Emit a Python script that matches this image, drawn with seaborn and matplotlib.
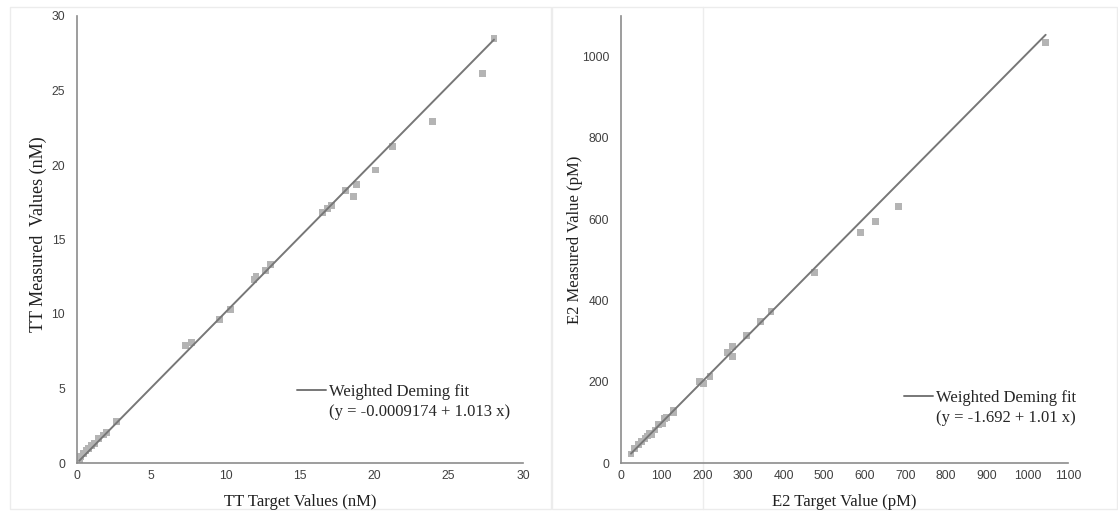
import numpy as np
import matplotlib
matplotlib.use("Agg")
import matplotlib.pyplot as plt
from matplotlib.lines import Line2D
from matplotlib.patches import Rectangle
import seaborn as sns

# TT panel (nM)
tt_target = [0.15, 0.25, 0.42, 0.6, 0.76, 0.99, 1.2, 1.43, 1.77, 2.0, 2.67,
             7.3, 7.7, 9.6, 10.3, 11.9, 12.04, 12.7, 13.0,
             16.5, 16.86, 17.1, 18.07, 18.6, 18.8, 20.1, 21.2, 23.9, 27.3, 28.05]
tt_measured = [0.25, 0.42, 0.65, 0.83, 0.98, 1.16, 1.32, 1.66, 1.88, 2.06, 2.8,
               7.9, 8.1, 9.64, 10.3, 12.3, 12.5, 12.9, 13.3,
               16.8, 17.1, 17.3, 18.27, 17.9, 18.7, 19.66, 21.25, 22.9, 26.15, 28.5]
tt_fit = (-0.0009174, 1.013)

# E2 panel (pM)
e2_target = [24.6, 34, 42.6, 51, 59, 65, 71, 75.5, 83.6, 92, 101.6, 108, 112.4,
             128.8, 130, 194, 202.6, 219, 262.5, 275, 275, 309, 344, 369, 475.8,
             590, 627, 682, 1045]
e2_measured = [22, 36, 46, 52.6, 61, 66.6, 73, 69, 81.4, 93.8, 96, 110, 112.7,
               125, 129, 200.6, 195, 213, 272, 287, 262, 314, 348, 372, 468,
               568, 594.6, 632, 1034.5]
e2_fit = (-1.692, 1.01)

sns.set_style("white")
plt.rcParams['font.family'] = ['Liberation Serif', 'DejaVu Serif']

line_col = '#777777'
pt_col = '#b4b4b4'
tick_col = '#404040'
spine_col = '#8c8c8c'

fig = plt.figure(figsize=(11.18, 5.13), dpi=100)

# faint panel frames from the original figure
for x0, x1 in [(10, 551), (552, 1117)]:
    fig.patches.append(Rectangle((x0 / 1118, 1 - 509 / 513), (x1 - x0) / 1118, 502 / 513,
                                 transform=fig.transFigure, fill=False,
                                 edgecolor='#ececec', lw=1, zorder=-1))
fig.add_artist(Line2D([703 / 1118, 703 / 1118], [1 - 509 / 513, 1 - 7 / 513],
                      transform=fig.transFigure, color='#ededed', lw=1, zorder=-1))

ax1 = fig.add_axes([77 / 1118, 1 - 463 / 513, 446 / 1118, 447 / 513])
ax2 = fig.add_axes([621 / 1118, 1 - 463 / 513, 447 / 1118, 447 / 513])


def draw_panel(ax, xs, ys, fit, xlabel, ylabel, ysize=12):
    ax.set_facecolor('none')
    sns.scatterplot(x=xs, y=ys, ax=ax, marker='s', s=24, color=pt_col,
                    edgecolor='none', zorder=2)
    fx = np.array([min(xs), max(xs)])
    sns.lineplot(x=fx, y=fit[0] + fit[1] * fx, ax=ax, color=line_col, lw=1.4, zorder=3)
    ax.set_xlabel(xlabel, fontsize=12, color='#202020')
    ax.set_ylabel(ylabel, fontsize=ysize, color='#202020')
    for s in ['top', 'right']:
        ax.spines[s].set_visible(False)
    for s in ['left', 'bottom']:
        ax.spines[s].set_color(spine_col)
        ax.spines[s].set_linewidth(1.2)
    ax.tick_params(which='both', direction='out', length=3, width=1, color=spine_col,
                   labelcolor=tick_col)
    ax.tick_params(axis='y', pad=5.5)
    ax.tick_params(axis='x', pad=2)
    return [Line2D([], [], color=line_col, lw=1.4), Line2D([], [], color='none')]


h1 = draw_panel(ax1, tt_target, tt_measured, tt_fit,
                'TT Target Values (nM)', 'TT Measured  Values (nM)', ysize=13)
ax1.set_xlim(0, 30)
ax1.set_ylim(0, 30)
ax1.set_xticks(np.arange(0, 31, 5))
ax1.set_xticks(np.arange(0, 30.1, 2.5), minor=True)
ax1.set_yticks(np.arange(0, 31, 5))
ax1.set_yticks(np.arange(0, 30.1, 2.5), minor=True)
ax1.xaxis.set_label_coords(0.5, -0.07)
ax1.yaxis.set_label_coords(-0.067, 0.512)
ax1.legend(h1, ['Weighted Deming fit', '(y = -0.0009174 + 1.013 x)'],
           loc='upper left', bbox_to_anchor=(0.493, 0.176), frameon=False,
           fontsize=12, handlelength=1.75, handletextpad=0.15, labelspacing=0.25,
           borderpad=0, borderaxespad=0)

h2 = draw_panel(ax2, e2_target, e2_measured, e2_fit,
                'E2 Target Value (pM)', 'E2 Measured Value (pM)')
ax2.set_xlim(0, 1100)
ax2.set_ylim(0, 1100)
ax2.set_xticks(np.arange(0, 1101, 100))
ax2.set_yticks(np.arange(0, 1001, 200))
ax2.set_yticks(np.arange(0, 1101, 100), minor=True)
ax2.xaxis.set_label_coords(0.5, -0.07)
ax2.yaxis.set_label_coords(-0.085, 0.5)
ax2.legend(h2, ['Weighted Deming fit', '(y = -1.692 + 1.01 x)'],
           loc='upper left', bbox_to_anchor=(0.633, 0.164), frameon=False,
           fontsize=12, handlelength=1.75, handletextpad=0.15, labelspacing=0.25,
           borderpad=0, borderaxespad=0)

for ax in (ax1, ax2):
    for lab in ax.get_xticklabels() + ax.get_yticklabels():
        lab.set_family(['Liberation Sans', 'DejaVu Sans'])
        lab.set_fontsize(8.7)

fig.savefig('out.png', dpi=100)
